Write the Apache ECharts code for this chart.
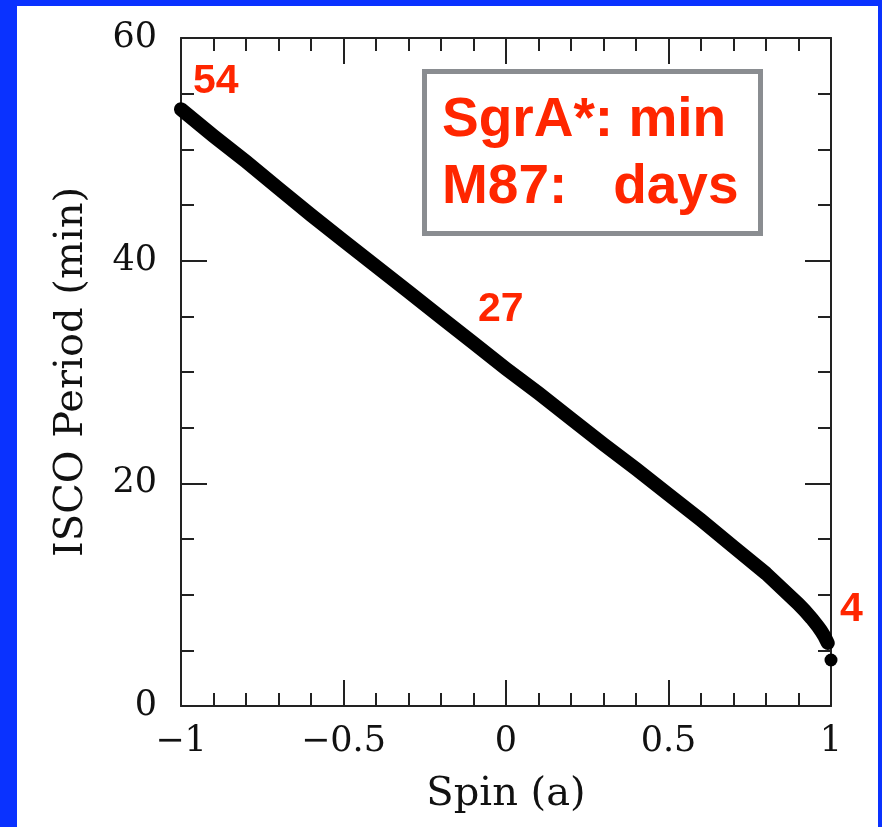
<!DOCTYPE html>
<html>
<head>
<meta charset="utf-8">
<script src="https://cdn.jsdelivr.net/npm/echarts@6/dist/echarts.min.js"></script>
<style>
  html, body { margin: 0; padding: 0; background: #0a32ff; }
  #main { width: 882px; height: 827px; }
</style>
</head>
<body>
<div id="main"></div>
<script>
// ISCO period vs spin
var spin   = [-1, -0.9, -0.8, -0.7, -0.6, -0.5, -0.4, -0.3, -0.2, -0.1, 0, 0.1, 0.2, 0.3, 0.4, 0.5, 0.6, 0.7, 0.8, 0.9, 0.92, 0.94, 0.96, 0.97, 0.98, 0.99];
var period = [53.6, 51.2, 48.9, 46.5, 44.1, 41.8, 39.5, 37.2, 34.9, 32.6, 30.3, 28.1, 25.8, 23.5, 21.3, 19.0, 16.7, 14.3, 11.9, 9.15, 8.54, 7.88, 7.14, 6.73, 6.25, 5.66];
// isolated point at maximal spin
var endPoint = [1, 4.13];

var xTicks = { min: -1, max: 1, interval: 0.5 };
var yTicks = { min: 0, max: 60, interval: 20 };

var curve = spin.map(function (s, i) { return [s, period[i]]; });

var axisColor = '#222';
var tickFont = { fontFamily: 'DejaVu Serif', fontSize: 35, color: '#111' };
var red = '#ff2600';

function fmt(v) {
  return v < 0 ? '\u2212' + String(-v) : String(v);
}

function xAxisOf(pos, labels) {
  return {
    type: 'value', position: pos,
    min: xTicks.min, max: xTicks.max, interval: xTicks.interval,
    axisLine: { show: true, onZero: false, lineStyle: { color: axisColor, width: 2 } },
    axisTick: { show: true, inside: true, length: 26, lineStyle: { color: axisColor, width: 2 } },
    minorTick: { show: true, splitNumber: 5, length: 13, lineStyle: { color: axisColor, width: 2 } },
    splitLine: { show: false },
    axisLabel: labels ? Object.assign({ margin: 18, formatter: fmt }, tickFont) : { show: false },
    name: labels ? 'Spin (a)' : '',
    nameLocation: 'middle', nameGap: 69,
    nameTextStyle: { fontFamily: 'DejaVu Serif', fontSize: 40, color: '#111' }
  };
}

function yAxisOf(pos, labels) {
  return {
    type: 'value', position: pos,
    min: yTicks.min, max: yTicks.max, interval: yTicks.interval,
    axisLine: { show: true, onZero: false, lineStyle: { color: axisColor, width: 2 } },
    axisTick: { show: true, inside: true, length: 26, lineStyle: { color: axisColor, width: 2 } },
    minorTick: { show: true, splitNumber: 4, length: 13, lineStyle: { color: axisColor, width: 2 } },
    splitLine: { show: false },
    axisLabel: labels ? Object.assign({ margin: 24, formatter: fmt }, tickFont) : { show: false },
    name: labels ? 'ISCO Period (min)' : '',
    nameLocation: 'middle', nameGap: 89,
    nameTextStyle: { fontFamily: 'DejaVu Serif', fontSize: 40, color: '#111' }
  };
}

var myChart = echarts.init(document.getElementById('main'));
myChart.setOption({
  animation: false,
  grid: { left: 181, right: 51, top: 38, bottom: 121 },
  xAxis: [xAxisOf('bottom', true), xAxisOf('top', false)],
  yAxis: [yAxisOf('left', true), yAxisOf('right', false)],
  graphic: [
    { type: 'rect', z: -10, silent: true, shape: { x: 17, y: 6, width: 861, height: 821 }, style: { fill: '#fff' } },
    { type: 'text', left: 193, top: 61, style: { text: '54', fill: red, font: 'bold 41px "Liberation Sans", Arial, sans-serif' } },
    { type: 'text', left: 478, top: 289, style: { text: '27', fill: red, font: 'bold 41px "Liberation Sans", Arial, sans-serif' } },
    { type: 'text', left: 840, top: 589, style: { text: '4', fill: red, font: 'bold 41px "Liberation Sans", Arial, sans-serif' } },
    { type: 'rect', shape: { x: 424.5, y: 71.5, width: 336, height: 162 }, style: { fill: '#fff', stroke: '#8a8d91', lineWidth: 5 } },
    { type: 'text', left: 442, top: 93, style: { text: 'SgrA*: min', fill: red, font: 'bold 55px "Liberation Sans", Arial, sans-serif' } },
    { type: 'text', left: 442, top: 160, style: { text: 'M87:   days', fill: red, font: 'bold 55px "Liberation Sans", Arial, sans-serif' } }
  ],
  series: [
    {
      type: 'line',
      data: curve,
      showSymbol: false,
      clip: false,
      lineStyle: { color: '#000', width: 14, cap: 'round', join: 'round' }
    },
    {
      type: 'scatter',
      data: [endPoint],
      symbolSize: 13,
      clip: false,
      itemStyle: { color: '#000', opacity: 1 }
    }
  ]
});
</script>
</body>
</html>
